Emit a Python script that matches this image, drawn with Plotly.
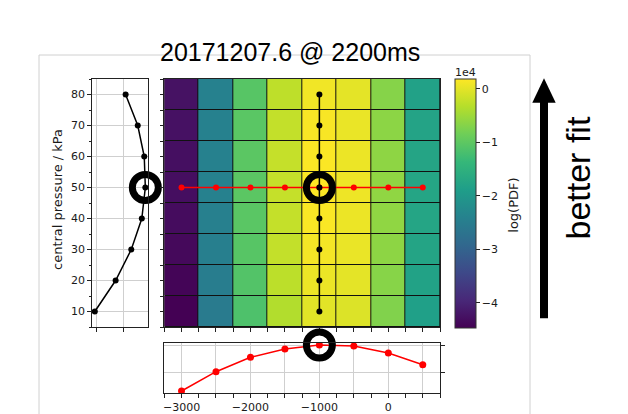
import plotly.graph_objects as go

# ---------------- data ----------------
offsets = [-3000, -2500, -2000, -1500, -1000, -500, 0, 500]      # x categories
pressures = [10, 20, 30, 40, 50, 60, 70, 80]                       # central pressure / kPa
# log(PDF) / 1e4, rows = pressures, columns = offsets
logpdf = [
    [-4.47, -2.54, -1.14, -0.35, -0.007, -0.05, -0.71, -1.85],
    [-4.42, -2.49, -1.09, -0.28,  0.070,  0.01, -0.66, -1.80],
    [-4.37, -2.45, -1.05, -0.23,  0.128,  0.05, -0.62, -1.76],
    [-4.33, -2.43, -1.03, -0.22,  0.167,  0.07, -0.60, -1.74],
    [-4.30, -2.42, -1.02, -0.21,  0.180,  0.08, -0.60, -1.74],
    [-4.28, -2.41, -1.02, -0.21,  0.176,  0.07, -0.61, -1.75],
    [-4.26, -2.41, -1.03, -0.23,  0.152,  0.05, -0.63, -1.77],
    [-4.25, -2.42, -1.05, -0.26,  0.107,  0.01, -0.67, -1.81],
]
cbar_ticks = [-4, -3, -2, -1, 0]
cbar_text = ["\u22124", "\u22123", "\u22122", "\u22121", "0"]
bottom_ticks = [-3000, -2500, -2000, -1500, -1000, -500, 0, 500]
bottom_text = ["\u22123000", "", "\u22122000", "", "\u22121000", "", "0", ""]
bottom_grid = [-2.5, 0.1]
left_grid = [0, 0.1]
title_text = "20171207.6 @ 2200ms"

# best fit = argmax
ibest, jbest = max(((i, j) for i in range(len(pressures)) for j in range(len(offsets))),
                   key=lambda t: logpdf[t[0]][t[1]])
left_vals = [row[jbest] for row in logpdf]
bottom_vals = logpdf[ibest]

# ---------------- layout helpers ----------------
W, H = 628, 414
def fx(px): return px / W
def fy(py): return 1 - py / H

TICKFONT = dict(family="DejaVu Sans", size=11, color="#1a1a1a")
GRID = "#cfcfcf"
RING = dict(symbol="circle-open", size=26, color="black", line=dict(width=7, color="black"))

fig = go.Figure()

# left panel
fig.add_trace(go.Scatter(x=left_vals, y=pressures, mode="lines+markers",
                         line=dict(color="black", width=1.5),
                         marker=dict(color="black", size=6),
                         xaxis="x", yaxis="y", showlegend=False))
fig.add_trace(go.Scatter(x=[left_vals[ibest]], y=[pressures[ibest]], mode="markers",
                         marker=RING, cliponaxis=False, xaxis="x", yaxis="y", showlegend=False))

# main heatmap
fig.add_trace(go.Heatmap(x=offsets, y=pressures, z=logpdf, colorscale="Viridis",
                         zmin=-4.47, zmax=0.19, xgap=1, ygap=1,
                         xaxis="x2", yaxis="y2",
                         colorbar=dict(x=fx(455.3), xanchor="left", xpad=0, ypad=0,
                                       y=fy(203.3), yanchor="middle",
                                       lenmode="pixels", len=248.7,
                                       thicknessmode="pixels", thickness=21,
                                       outlinewidth=1, outlinecolor="#333",
                                       tickmode="array", tickvals=cbar_ticks, ticktext=cbar_text,
                                       ticks="outside", ticklen=3.5, tickwidth=1, tickcolor="#222",
                                       tickfont=TICKFONT, borderwidth=0)))
fig.add_trace(go.Scatter(x=offsets, y=[pressures[ibest]] * len(offsets), mode="lines+markers",
                         line=dict(color="red", width=1.3), marker=dict(color="red", size=6),
                         xaxis="x2", yaxis="y2", showlegend=False))
fig.add_trace(go.Scatter(x=[offsets[jbest]] * len(pressures), y=pressures, mode="lines+markers",
                         line=dict(color="black", width=1.5), marker=dict(color="black", size=6),
                         xaxis="x2", yaxis="y2", showlegend=False))
fig.add_trace(go.Scatter(x=[offsets[jbest]], y=[pressures[ibest]], mode="markers",
                         marker=RING, cliponaxis=False, xaxis="x2", yaxis="y2", showlegend=False))

# bottom panel
fig.add_trace(go.Scatter(x=offsets, y=bottom_vals, mode="lines+markers",
                         line=dict(color="red", width=1.5), marker=dict(color="red", size=7),
                         xaxis="x3", yaxis="y3", showlegend=False))
fig.add_trace(go.Scatter(x=[offsets[jbest]], y=[bottom_vals[jbest]], mode="markers",
                         marker=RING, cliponaxis=False, xaxis="x3", yaxis="y3", showlegend=False))

axis_common = dict(showline=True, mirror=True, linecolor="#222", linewidth=1,
                   ticks="outside", ticklen=3.5, tickwidth=1, tickcolor="#222",
                   tickfont=TICKFONT, zeroline=False)

main_x = [fx(164.3), fx(440)]
main_y = [fy(327), fy(79)]

fig.update_layout(
    width=W, height=H, margin=dict(l=0, r=0, t=0, b=0),
    paper_bgcolor="white", plot_bgcolor="white", showlegend=False,
    xaxis=dict(domain=[fx(91.7), fx(148.3)], range=[-0.0185, 0.191], anchor="y",
               tickmode="array", tickvals=left_grid, showticklabels=False,
               showgrid=True, gridcolor=GRID, gridwidth=1, **axis_common),
    yaxis=dict(domain=main_y, range=[5, 85], anchor="x",
               tickmode="array", tickvals=pressures, ticktext=[str(p) for p in pressures],
               showgrid=True, gridcolor=GRID, gridwidth=1,
               minor=dict(dtick=5, tick0=0, ticks="outside", ticklen=2, tickcolor="#222", showgrid=False),
               **axis_common),
    xaxis2=dict(domain=main_x, range=[-3250, 750], anchor="y2",
                tickmode="linear", tick0=0, dtick=250, showticklabels=False,
                showgrid=False, **axis_common),
    yaxis2=dict(domain=main_y, range=[5, 85], anchor="x2",
                tickmode="linear", tick0=0, dtick=5, showticklabels=False,
                showgrid=False, **axis_common),
    xaxis3=dict(domain=main_x, range=[-3250, 750], anchor="y3",
                tickmode="array", tickvals=bottom_ticks, ticktext=bottom_text,
                showgrid=True, gridcolor=GRID, gridwidth=1,
                minor=dict(dtick=250, tick0=0, ticks="outside", ticklen=3.5, tickcolor="#222", showgrid=False),
                **axis_common),
    yaxis3=dict(domain=[fy(393.3), fy(342.7)], range=[-4.524, 0.404], anchor="x3", side="right",
                tickmode="array", tickvals=bottom_grid, showticklabels=False,
                showgrid=True, gridcolor=GRID, gridwidth=1, **axis_common),
)

# slide frame, heatmap edge background, arrow
fig.add_shape(type="rect", xref="paper", yref="paper", x0=fx(39), x1=fx(530), y0=-0.1, y1=fy(55),
              line=dict(color="#d0d0d0", width=1), fillcolor="rgba(0,0,0,0)", layer="below")
fig.add_shape(type="rect", xref="x2 domain", yref="y2 domain", x0=0, x1=1, y0=0, y1=1,
              line=dict(width=0), fillcolor="#111", layer="below")
fig.add_shape(type="rect", xref="paper", yref="paper", x0=fx(540), x1=fx(548), y0=fy(318.3), y1=fy(100),
              line=dict(width=0), fillcolor="black")
fig.add_shape(type="path", xref="paper", yref="paper",
              path=f"M {fx(532.3)},{fy(102.7)} L {fx(544)},{fy(78.3)} L {fx(555.7)},{fy(102.7)} Z",
              line=dict(width=0), fillcolor="black")

# texts
fig.add_annotation(text=title_text, x=fx(290), y=fy(52), xref="paper", yref="paper",
                   xanchor="center", yanchor="middle", showarrow=False,
                   font=dict(family="Liberation Sans", size=25, color="black"))
fig.add_annotation(text="better fit", x=fx(577), y=fy(178.5), xref="paper", yref="paper",
                   xanchor="center", yanchor="middle", showarrow=False, textangle=-90,
                   font=dict(family="Liberation Sans", size=34, color="black"))
fig.add_annotation(text="central pressure / kPa", x=fx(57), y=fy(199), xref="paper", yref="paper",
                   xanchor="center", yanchor="middle", showarrow=False, textangle=-90,
                   font=dict(family="DejaVu Sans", size=13, color="#1a1a1a"))
fig.add_annotation(text="log(PDF)", x=fx(512.7), y=fy(205), xref="paper", yref="paper",
                   xanchor="center", yanchor="middle", showarrow=False, textangle=-90,
                   font=dict(family="DejaVu Sans", size=13, color="#1a1a1a"))
fig.add_annotation(text="1e4", x=fx(466), y=fy(72), xref="paper", yref="paper",
                   xanchor="center", yanchor="middle", showarrow=False,
                   font=dict(family="DejaVu Sans", size=11, color="#1a1a1a"))

fig.write_html("out.html")
